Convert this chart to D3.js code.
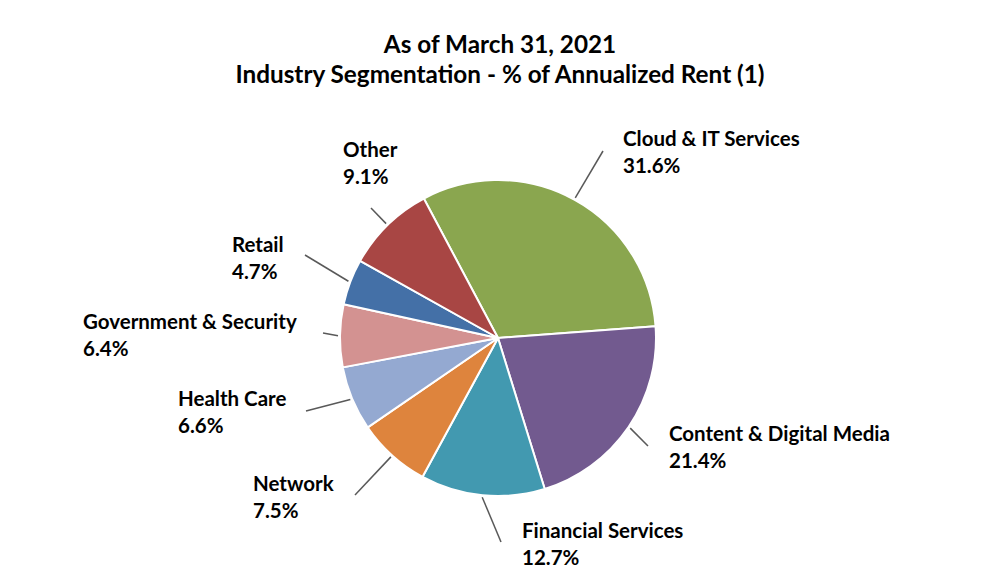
<!DOCTYPE html>
<html>
<head>
<meta charset="utf-8">
<script src="https://cdn.jsdelivr.net/npm/d3@7"></script>
<style>
  html, body { margin: 0; padding: 0; background: #fff; }
  svg { display: block; }
  text { font-family: Lato, "Open Sans", sans-serif; font-weight: bold; fill: #000; }
</style>
</head>
<body>
<svg id="chart" width="1000" height="580"></svg>
<script>
const titleLines = ["As of March 31, 2021", "Industry Segmentation - % of Annualized Rent (1)"];
const categories = ["Cloud & IT Services", "Content & Digital Media", "Financial Services", "Network", "Health Care", "Government & Security", "Retail", "Other"];
const shares = [31.6, 21.4, 12.7, 7.5, 6.6, 6.4, 4.7, 9.1];
const colors = ["#8AA64F", "#725A8F", "#4299B0", "#DE843D", "#94A9D1", "#D39291", "#4470A7", "#A84644"];

// label layout (text anchor at left, first baseline) and leader end points
const labelLayout = {
  "Cloud & IT Services":     { tx: 623, ty: 146, lx: 603, ly: 151 },
  "Content & Digital Media": { tx: 669, ty: 441, lx: 648, ly: 446 },
  "Financial Services":      { tx: 522, ty: 538, lx: 501, ly: 542 },
  "Network":                 { tx: 253, ty: 491, lx: 355, ly: 495 },
  "Health Care":             { tx: 178, ty: 406, lx: 306, ly: 411 },
  "Government & Security":   { tx: 83,  ty: 329, lx: 323, ly: 333 },
  "Retail":                  { tx: 232, ty: 252, lx: 305, ly: 255 },
  "Other":                   { tx: 343, ty: 157, lx: 371, ly: 208 }
};

const svg = d3.select("#chart");
const cx = 498, cy = 338, r = 158;

svg.append("g").selectAll("text").data(titleLines).join("text")
  .attr("x", 500).attr("y", (d, i) => 53 + i * 30)
  .attr("text-anchor", "middle").attr("font-size", 24.3).text(d => d);

const data = categories.map((c, i) => ({ name: c, value: shares[i], color: colors[i] }));
const pie = d3.pie().value(d => d.value).sort(null)
  .startAngle(-28 * Math.PI / 180).endAngle(332 * Math.PI / 180);
const arcs = pie(data);
const arc = d3.arc().innerRadius(0).outerRadius(r);

const g = svg.append("g").attr("transform", `translate(${cx},${cy})`);
g.selectAll("path").data(arcs).join("path")
  .attr("d", arc).attr("fill", d => d.data.color)
  .attr("stroke", "#fff").attr("stroke-width", 2).attr("stroke-linejoin", "round");

// leader lines
g.selectAll("line").data(arcs).join("line")
  .attr("x1", d => { const a = (d.startAngle + d.endAngle) / 2; return Math.sin(a) * (r + 2); })
  .attr("y1", d => { const a = (d.startAngle + d.endAngle) / 2; return -Math.cos(a) * (r + 2); })
  .attr("x2", d => labelLayout[d.data.name].lx - cx)
  .attr("y2", d => labelLayout[d.data.name].ly - cy)
  .attr("stroke", "#595959").attr("stroke-width", 1.5);

const lab = svg.append("g").selectAll("text").data(arcs).join("text")
  .attr("font-size", 20.5);
lab.append("tspan").attr("x", d => labelLayout[d.data.name].tx).attr("y", d => labelLayout[d.data.name].ty)
  .text(d => d.data.name);
lab.append("tspan").attr("x", d => labelLayout[d.data.name].tx).attr("y", d => labelLayout[d.data.name].ty + 27)
  .text(d => d.data.value.toFixed(1) + "%");
</script>
</body>
</html>
